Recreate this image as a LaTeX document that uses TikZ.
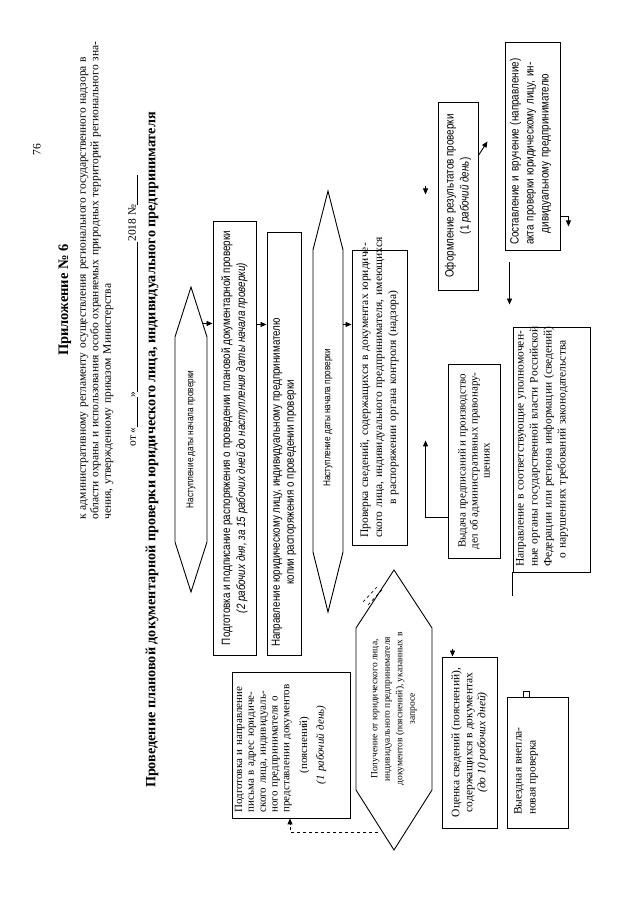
\documentclass[tikz,border=0pt]{standalone}
\usepackage{fontspec}
\setmainfont{Liberation Serif}
\newfontfamily\narrowsf[FakeStretch=0.82]{Liberation Sans}
\usetikzlibrary{calc,arrows.meta}
\newcommand{\jline}[1]{\makebox[\linewidth][s]{#1}}
\tikzset{
  blk/.style={draw, inner sep=0pt},
  txt/.style={inner sep=0pt, align=center, font=\fontsize{11.5}{14}\selectfont},
  nsf/.style={inner sep=0pt, align=center, font=\narrowsf\fontsize{12}{15}\selectfont},
  dsf/.style={inner sep=0pt, font=\narrowsf\fontsize{10}{12}\selectfont},
  arr/.style={-{Triangle[length=6pt,width=5pt]}}
}
\begin{document}
\begin{tikzpicture}[x=1pt, y=1pt, rotate=90, transform shape, line width=0.9pt]
\useasboundingbox (0,0) rectangle (905,640);
% Шапка
\node[font=\fontsize{11.5}{13}\selectfont] (pg) at (755,603) {76};
\node[font=\bfseries\fontsize{14.5}{16}\selectfont] (app) at (605,575) {Приложение № 6};
\node[anchor=north west, text width=475pt, align=left, inner sep=0pt,
  font=\fontsize{11.5}{12.5}\selectfont] (reg) at (385,560)
  {\jline{к административному регламенту осуществления регионального государственного надзора в}\\
   \jline{области охраны и использования особо охраняемых природных территорий регионального зна-}\\
   чения, утвержденному приказом Министерства};
\node[anchor=west, inner sep=0pt, font=\fontsize{11.5}{13}\selectfont] (dt) at (458,507)
  {от «\underline{\hspace{30pt}}»\underline{\hspace{150pt}}2018 №\underline{\hspace{30pt}}};
\node[font=\bfseries\fontsize{14.2}{16}\selectfont] (ttl) at (455,488)
  {Проведение плановой документарной проверки юридического лица, индивидуального предпринимателя};
% Первая дата
\draw (313,449) -- (363,465) -- (568,465) -- (618,449) -- (568,433) -- (363,433) -- cycle;
\node[dsf] (d1) at (465.5,449) {Наступление даты начала проверки};
% Распоряжение
\node[blk, nsf, minimum width=434pt, minimum height=43pt] (a) at (467,405.5)
  {Подготовка и подписание распоряжения о проведении плановой документарной проверки\\
   \textit{(2 рабочих дня, за 15 рабочих дней до наступления даты начала проверки)}};
\node[blk, minimum width=423pt, minimum height=34pt] (b) at (461.5,356) {};
\node[nsf, font=\narrowsf\fontsize{12}{14}\selectfont, anchor=west] (bt) at ($(b.west)+(8,0)$)
  {Направление юридическому лицу, индивидуальному предпринимателю\\
   копии распоряжения о проведении проверки};
% Вторая дата
\draw (293,312) -- (353,327) -- (655,327) -- (714,312) -- (655,297) -- (353,297) -- cycle;
\node[dsf] (d2) at (487,312) {Наступление даты начала проверки};
% Проверка сведений
\node[blk, txt, text width=280pt, minimum width=295pt, minimum height=55pt] (c) at (507.5,260.5)
  {\jline{Проверка сведений, содержащихся в документах юридиче-}\\
   \jline{ского лица, индивидуального предпринимателя, имеющихся}\\
   в распоряжении органа контроля (надзора)};
\node[blk, txt, font=\fontsize{11}{12}\selectfont, minimum width=194pt, minimum height=52pt] (d) at (444,166)
  {Выдача предписаний и производство\\дел об административных правонару-\\шениях};
\node[blk, minimum width=245pt, minimum height=77pt] (e) at (455.5,88.5) {};
\node[txt, anchor=north, text width=235pt] (et) at ($(e.north)+(0,-3)$)
  {\jline{Направление в соответствующие уполномочен-}\\
   \jline{ные органы государственной власти Российской}\\
   \jline{Федерации или региона информации (сведений)}\\
   о нарушениях требований законодательства};
% Результаты
\node[blk, nsf, minimum width=188pt, minimum height=40pt] (f) at (709,182)
  {Оформление результатов проверки\\(1 \textit{рабочий день})};
\node[blk, minimum width=208pt, minimum height=55pt] (g) at (759,107.5) {};
\node[nsf, anchor=west, text width=195pt] (gt) at ($(g.west)+(5,2)$)
  {\jline{Составление и вручение (направление)}\\
   \jline{акта проверки юридическому лицу, ин-}\\
   \hfill дивидуальному предпринимателю\hfill\hfill\hfill\hfill};
% Запрос документов
\node[blk, minimum width=146pt, minimum height=118pt] (h) at (160,349) {};
\node[txt, font=\fontsize{11}{11.8}\selectfont, anchor=north, text width=135pt] (ht) at ($(h.north)+(0,-3)$)
  {\jline{Подготовка и направление}\\
   \jline{письма в адрес юридиче-}\\
   \jline{ского лица, индивидуаль-}\\
   \jline{ного предпринимателя о}\\
   \jline{представлении документов}\\[6pt]
   (пояснений)\\[5pt]
   \textit{(1 рабочий день)}};
\draw (55,246) -- (115,284) -- (277,284) -- (335,246) -- (277,208) -- (115,208) -- cycle;
\node[txt, font=\fontsize{9.5}{12.5}\selectfont] (i) at (196,246)
  {Получение от юридического лица,\\индивидуального предпринимателя\\
   документов (пояснений), указанных в\\запросе};
\node[blk, txt, font=\fontsize{11.5}{13}\selectfont, minimum width=171pt, minimum height=55pt] (j) at (162.5,170.5)
  {Оценка сведений (пояснений),\\содержащихся в документах\\\textit{(до 10 рабочих дней)}};
\node[blk, minimum width=131pt, minimum height=61pt] (k) at (142.5,102.5) {};
\node[txt, anchor=north west, align=left] (kt) at ($(k.north west)+(13,-7)$)
  {Выездная внепла-\\новая проверка};
% Стрелки
\draw[arr] ($(a.north west)+(332,10)$) -- ($(a.north west)+(332,0)$);
\draw[arr] ($(a.south west)+(331,0)$) -- ($(b.north west)+(331,0)$);
\draw[arr] ($(c.north west)+(221,9)$) -- ($(c.north west)+(221,0)$);
\draw[arr] ($(d.north west)+(41,0)$) -- ++(0,22) -- ++(77,0);
\draw[arr] ($(f.north west)+(104,12)$) -- ++(-8,0);
\draw[arr] ($(f.south west)+(135,0)$) -- ++(14,-9);
\draw[arr] ($(g.south west)+(34,0)$) -- ++(0,-8) -- ++(-10,0);
\draw[arr] ($(g.north west)+(-12,-5)$) -- ($(e.north east)+(22,3)$);
\draw (e.north west) -- ++(-24,0);
\draw[arr, dashed] ($(h.west)+(-14,-87)$) -- ++(0,88) -- ++(14,0);
\draw[dashed, line width=0.6pt] (303,277) -- (318,263);
\draw[dashed, line width=0.6pt] (300,272) -- (315,258);
\draw[arr] ($(j.east)+(8,17)$) -- ++(-8,0);
\draw[line width=0.6pt] ($(k.east)+(-1,8)$) rectangle ++(6,6);
\end{tikzpicture}
\end{document}
